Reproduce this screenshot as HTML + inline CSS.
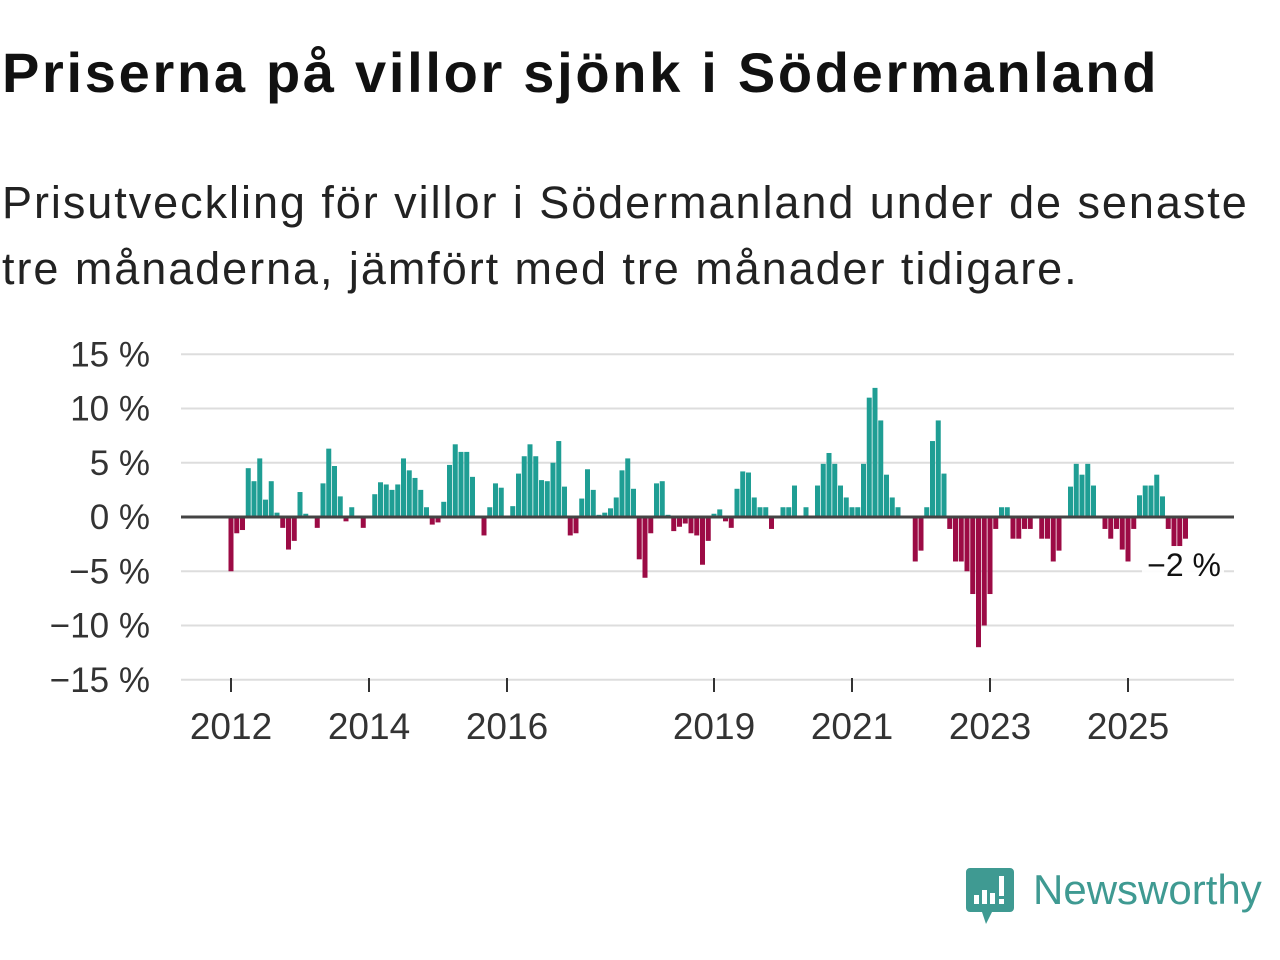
<!DOCTYPE html>
<html><head><meta charset="utf-8">
<style>
body{margin:0;width:1280px;height:960px;background:#fff;font-family:"Liberation Sans",sans-serif;overflow:hidden;position:relative}
#title{position:absolute;left:2px;top:40px;font-size:56px;font-weight:bold;color:#111;margin:0;letter-spacing:2.7px}
#sub{position:absolute;left:2px;top:170px;font-size:45px;color:#222;line-height:66px;letter-spacing:1.95px}
svg{position:absolute;left:0;top:0}
</style></head><body>
<h1 id="title">Priserna på villor sjönk i Södermanland</h1>
<div id="sub">Prisutveckling för villor i Södermanland under de senaste<br>tre månaderna, jämfört med tre månader tidigare.</div>
<svg id="chart" width="1280" height="960"></svg>
<svg width="1280" height="960">
<path d="M970 868 h40 a4 4 0 0 1 4 4 v36 a4 4 0 0 1 -4 4 h-18 l-6 12 l-4 -12 h-12 a4 4 0 0 1 -4 -4 v-36 a4 4 0 0 1 4 -4z" fill="#3f9a92"/>
<rect x="974" y="895" width="5" height="9" fill="#fff"/><rect x="982" y="890" width="5" height="14" fill="#fff"/><rect x="990" y="893" width="5" height="11" fill="#fff"/><rect x="999" y="876" width="5" height="20" fill="#fff"/><rect x="999" y="899" width="5" height="5" fill="#fff"/>
<text x="1033" y="904" font-size="42" fill="#3f9a92" font-family="Liberation Sans, sans-serif">Newsworthy</text>
</svg>
<script>
const years=[2012,2014,2016,2019,2021,2023,2025];
const yTicks=[15,10,5,0,-5,-10,-15];
const values=[-5,-1.5,-1.2,4.5,3.3,5.4,1.6,3.3,0.4,-1,-3,-2.2,
2.3,0.3,0.1,-1,3.1,6.3,4.7,1.9,-0.4,0.9,0.1,-1,
null,2.1,3.2,3.0,2.5,3.0,5.4,4.3,3.6,2.5,0.9,-0.7,
-0.5,1.4,4.8,6.7,6.0,6.0,3.7,null,-1.7,0.9,3.1,2.7,
null,1.0,4.0,5.6,6.7,5.6,3.4,3.3,5.0,7.0,2.8,-1.7,
-1.5,1.7,4.4,2.5,0.2,0.4,0.8,1.8,4.3,5.4,2.6,-3.9,
-5.6,-1.5,3.1,3.3,0.2,-1.3,-0.9,-0.6,-1.5,-1.7,-4.4,-2.2,
0.3,0.7,-0.4,-1.0,2.6,4.2,4.1,1.8,0.9,0.9,-1.1,null,
0.9,0.9,2.9,null,0.9,null,2.9,4.9,5.9,4.9,2.9,1.8,
0.9,0.9,4.9,11.0,11.9,8.9,3.9,1.8,0.9,null,null,-4.1,
-3.1,0.9,7.0,8.9,4.0,-1.1,-4.1,-4.1,-5.0,-7.1,-12,-10,
-7.1,-1.1,0.9,0.9,-2,-2,-1.1,-1.1,null,-2,-2,-4.1,
-3.1,null,2.8,4.9,3.9,4.9,2.9,null,-1.1,-2,-1.1,-3,
-4.1,-1.1,2,2.9,2.9,3.9,1.9,-1.1,-2.7,-2.7,-2];
const NS="http://www.w3.org/2000/svg";
const svg=document.getElementById('chart');
const x=i=>231+i*5.75;
const y=v=>517-v*10.85;
function mk(t,a){const e=document.createElementNS(NS,t);for(const k in a)e.setAttribute(k,a[k]);svg.appendChild(e);return e;}
yTicks.forEach(t=>{
 if(t!==0){const g=mk('line',{x1:181,x2:1234,y1:y(t),y2:y(t),stroke:'#ddd','stroke-width':2});
 
 }
 const l=mk('text',{x:150,y:y(t)+12,'text-anchor':'end','font-size':35,fill:'#333'});
 l.textContent=(t<0?'\u2212'+(-t):t)+' %';
 
 
});
years.forEach(yr=>{
 const xi=x((yr-2012)*12);
 const tk=mk('line',{x1:xi,x2:xi,y1:678,y2:692,stroke:'#333','stroke-width':2});
 
 
 const l=mk('text',{x:xi,y:739,'text-anchor':'middle','font-size':37,fill:'#333'});
 l.textContent=yr;
 
 
});
values.forEach((v,i)=>{
 if(v===null)return;
 const r=mk('rect',{x:x(i)-2.5,width:5,y:Math.min(y(v),517),height:Math.abs(y(v)-517),fill:v>=0?'#1f9e94':'#9c0b45'});
 
 
});
const z=mk('line',{x1:181,x2:1234,y1:517,y2:517,stroke:'#444','stroke-width':3});


const bg=mk('rect',{x:1142,y:546,width:82,height:36,fill:'#fff',opacity:0.9});


const lab=mk('text',{x:1221,y:576,'text-anchor':'end','font-size':32,fill:'#111'});
lab.textContent='\u22122 %';


</script>
</body></html>
